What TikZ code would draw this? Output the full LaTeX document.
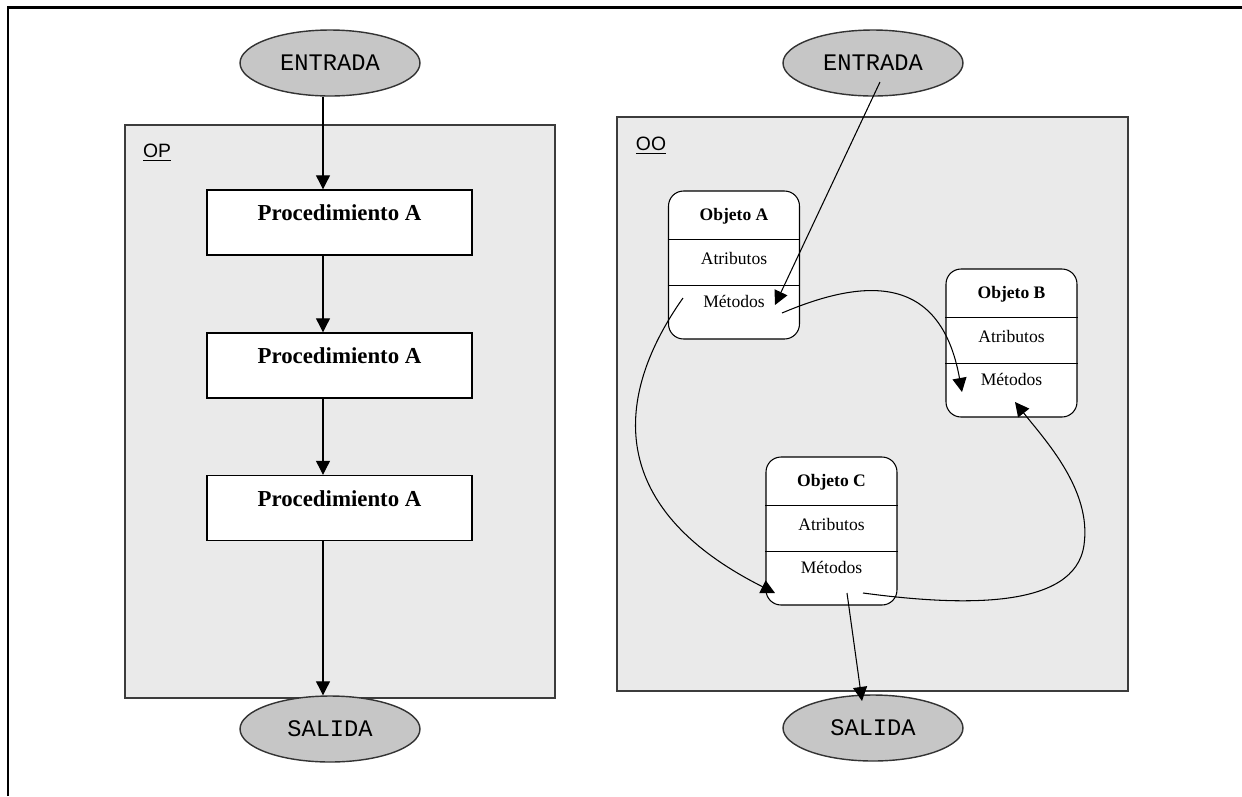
\documentclass[tikz,border=0pt]{standalone}
\usepackage{fontspec}
\setmainfont{Liberation Serif}
\setsansfont{Liberation Sans}
\setmonofont{Liberation Mono}
\usetikzlibrary{shapes.geometric,arrows.meta}
\definecolor{Cframe}{HTML}{3C3C3C}
\definecolor{Cpanel}{HTML}{EAEAEA}
\definecolor{Coval}{HTML}{C6C6C6}

\begin{document}
\begin{tikzpicture}[x=0.02cm,y=-0.02cm,
	oval/.style={ellipse,draw=black!80,line width=0.8pt,fill=Coval,minimum width=3.6cm,minimum height=1.32cm,font=\ttfamily\fontsize{13.5}{16}\selectfont},
	panel/.style={draw=Cframe,line width=1.1pt,fill=Cpanel,inner sep=0pt},
	paneltag/.style={font=\sffamily\fontsize{11}{13}\selectfont,inner sep=1pt},
	procbox/.style={draw=black,line width=0.8pt,fill=white,minimum width=5.3cm,minimum height=1.3cm,text height=9pt,text depth=11pt,font=\bfseries\fontsize{13}{15}\selectfont},
	objbox/.style={draw=black,line width=0.6pt,fill=white,rounded corners=0.3cm,minimum width=2.62cm,minimum height=2.96cm,inner sep=0pt},
	objtxt/.style={font=\fontsize{10}{12}\selectfont,inner sep=1pt},
	arr/.style={-{Triangle[length=8pt,width=8pt]},line width=0.6pt}]
	\useasboundingbox (0,0) rectangle (1242,796);
	\draw[line width=1.7pt] (8,796) -- (8,7) -- (1242,7);

	% left side: OP
	\node[panel,minimum width=8.6cm,minimum height=11.46cm] (op) at (340,411.5) {};
	\node[paneltag] (opTag) at (157,153) {\underline{OP}};
	\node[oval] (eL) at (330,63) {ENTRADA};
	\node[oval] (sL) at (330,729) {SALIDA};
	\node[procbox] (p1) at (339.5,222.5) {Procedimiento A};
	\node[procbox] (p2) at (339.5,365.5) {Procedimiento A};
	\node[procbox] (p3) at (339.5,508) {Procedimiento A};
	\coordinate (col) at (323,0);
	\draw[arr] (eL.south -| col) -- (p1.north -| col);
	\draw[arr] (p1.south -| col) -- (p2.north -| col);
	\draw[arr] (p2.south -| col) -- (p3.north -| col);
	\draw[arr] (p3.south -| col) -- (sL.north -| col);

	% right side: OO
	\node[panel,minimum width=10.22cm,minimum height=11.48cm] (oo) at (872.5,404) {};
	\node[paneltag] (ooTag) at (651,146) {\underline{OO}};
	\node[oval] (eR) at (873,63) {ENTRADA};
	\node[oval] (sR) at (873,728) {SALIDA};
	\foreach \n/\cx/\cy in {A/734/265,B/1011.5/343,C/831.5/531}{
		\node[objbox] (obj\n) at (\cx,\cy) {};
		\path (obj\n.north) ++(0,49) coordinate (obj\n-d1);
		\path (obj\n.north) ++(0,95) coordinate (obj\n-d2);
		\draw[line width=0.6pt] (obj\n-d1 -| obj\n.west) -- (obj\n-d1 -| obj\n.east);
		\draw[line width=0.6pt] (obj\n-d2 -| obj\n.west) -- (obj\n-d2 -| obj\n.east);
		\path (obj\n.north) ++(0,26) node[objtxt,font=\bfseries\fontsize{10}{12}\selectfont] (obj\n-t) {Objeto \n};
		\path (obj\n.north) ++(0,68) node[objtxt] (obj\n-a) {Atributos};
		\path (obj\n.north) ++(0,111) node[objtxt] (obj\n-m) {Métodos};
	}
	\coordinate (eR-out) at (880,82);
	\coordinate (objA-in) at (775,305);
	\coordinate (objA-out1) at (782,313);
	\coordinate (objA-out2) at (683,298);
	\coordinate (objB-in1) at (962,392);
	\coordinate (objB-in2) at (1015,402);
	\coordinate (objC-in) at (775,593);
	\coordinate (objC-out1) at (863,593);
	\coordinate (objC-out2) at (847,593);
	\coordinate (bend) at (1084,545);
	\coordinate (sR-in) at (862,701);
	\draw[arr] (eR-out) -- (objA-in);
	\draw[arr] (objA-out1) .. controls (860,280) and (940,270) .. (objB-in1);
	\draw[arr] (objA-out2) .. controls (625,380) and (590,500) .. (objC-in);
	\draw[arr] (objC-out1) .. controls (960,606) and (1075,610) .. (bend)
		.. controls (1092,490) and (1045,440) .. (objB-in2);
	\draw[arr] (objC-out2) -- (sR-in);
\end{tikzpicture}
\end{document}
